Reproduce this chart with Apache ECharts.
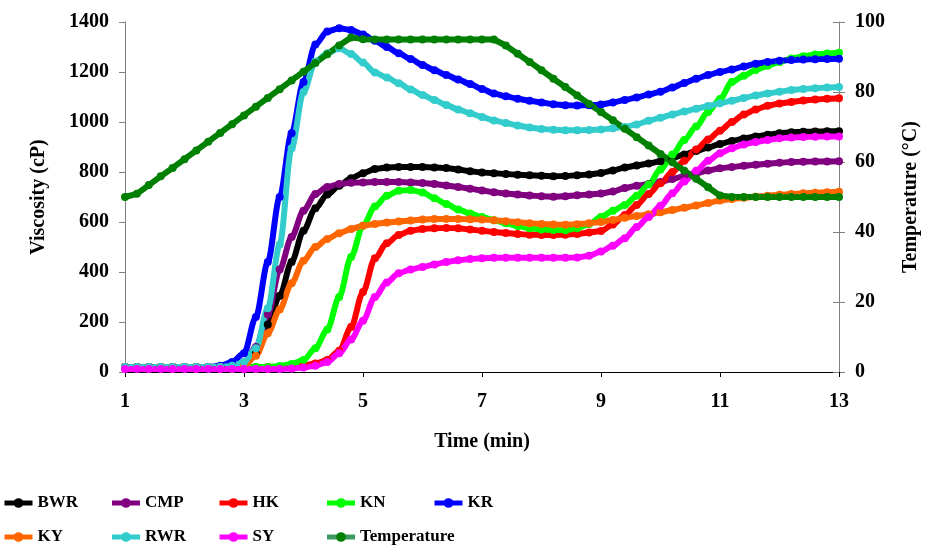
<!DOCTYPE html>
<html>
<head>
<meta charset="utf-8">
<title>Viscosity profile</title>
<script src="https://cdn.jsdelivr.net/npm/echarts@6/dist/echarts.min.js"></script>
<style>
    html, body { margin: 0; padding: 0; background: #fff; }
    #chart { width: 929px; height: 555px; }
</style>
</head>
<body>
<div id="chart"></div>
<script>
// time (min), one reading every 0.2 min
const times = [
    1.0, 1.2, 1.4, 1.6, 1.8, 2.0, 2.2, 2.4, 2.6, 2.8,
    3.0, 3.2, 3.4, 3.6, 3.8, 4.0, 4.2, 4.4, 4.6, 4.8,
    5.0, 5.2, 5.4, 5.6, 5.8, 6.0, 6.2, 6.4, 6.6, 6.8,
    7.0, 7.2, 7.4, 7.6, 7.8, 8.0, 8.2, 8.4, 8.6, 8.8,
    9.0, 9.2, 9.4, 9.6, 9.8, 10.0, 10.2, 10.4, 10.6, 10.8,
    11.0, 11.2, 11.4, 11.6, 11.8, 12.0, 12.2, 12.4, 12.6, 12.8,
    13.0
];

// viscosity (cP)
const bwr = [
    20, 20, 20, 20, 20, 20, 20, 20, 20, 20,
    25, 75, 190, 305, 440, 565, 655, 710, 745, 775,
    795, 812, 818, 820, 820, 820, 818, 816, 810, 803,
    798, 795, 792, 789, 787, 785, 783, 784, 787, 790,
    796, 806, 818, 826, 834, 843, 856, 870, 884, 898,
    912, 924, 934, 942, 949, 955, 959, 961, 962, 963,
    963
];
const cmp = [
    20, 20, 20, 20, 20, 20, 20, 20, 20, 20,
    30, 100, 230, 410, 540, 645, 712, 740, 752, 757,
    758, 760, 760, 760, 758, 756, 752, 746, 740, 733,
    726, 719, 714, 710, 706, 703, 701, 703, 707, 710,
    714, 722, 736, 745, 752, 760, 772, 784, 795, 806,
    815, 820, 825, 829, 833, 837, 840, 841, 842, 842,
    843
];
const hk = [
    20, 20, 20, 20, 20, 20, 20, 20, 20, 20,
    20, 20, 20, 20, 22, 26, 34, 48, 85, 180,
    320, 455, 515, 548, 565, 572, 575, 576, 575, 570,
    565, 560, 556, 552, 549, 548, 548, 549, 552, 558,
    564, 590, 628, 668, 712, 755, 800, 845, 890, 930,
    965, 1000, 1030, 1050, 1065, 1074, 1080, 1086, 1090, 1093,
    1095
];
const kn = [
    20, 20, 20, 20, 20, 20, 20, 20, 20, 20,
    20, 20, 20, 24, 32, 48, 95, 170, 300, 460,
    585, 662, 705, 725, 728, 718, 695, 672, 650, 634,
    620, 607, 595, 584, 575, 570, 568, 567, 575, 592,
    620, 645, 668, 705, 750, 810, 870, 928, 982, 1040,
    1092, 1160, 1185, 1208, 1225, 1240, 1254, 1263, 1270, 1274,
    1277
];
const kr = [
    20, 20, 20, 20, 20, 20, 20, 20, 25, 40,
    75, 220, 440, 700, 955, 1160, 1310, 1362, 1375, 1368,
    1350, 1325, 1300, 1275, 1252, 1228, 1207, 1188, 1170, 1152,
    1132, 1114, 1103, 1093, 1085, 1078, 1071, 1067, 1066, 1067,
    1070, 1078, 1088, 1098, 1110, 1121, 1138, 1156, 1173, 1188,
    1200, 1210, 1222, 1233, 1240, 1245, 1248, 1250, 1251, 1252,
    1253
];
const ky = [
    20, 20, 20, 20, 20, 20, 20, 20, 20, 20,
    25, 65, 155, 250, 355, 445, 500, 532, 555, 572,
    585, 592, 598, 602, 606, 610, 612, 612, 612, 611,
    610, 607, 603, 599, 595, 592, 590, 589, 591, 595,
    600, 608, 617, 624, 631, 639, 648, 657, 666, 676,
    686, 692, 697, 701, 705, 709, 712, 715, 717, 719,
    721
];
const rwr = [
    20, 20, 20, 20, 20, 20, 20, 20, 20, 25,
    40, 95, 255, 510, 895, 1120, 1242, 1275, 1295, 1272,
    1238, 1198, 1178, 1155, 1130, 1108, 1088, 1068, 1050, 1035,
    1020, 1006, 996, 986, 978, 972, 969, 967, 967, 968,
    970, 975, 980, 990, 1005, 1017, 1030, 1042, 1053, 1064,
    1075, 1085, 1096, 1106, 1114, 1121, 1128, 1132, 1135, 1138,
    1140
];
const sy = [
    12, 12, 12, 12, 12, 12, 12, 12, 12, 12,
    12, 12, 12, 12, 14, 18, 25, 40, 75, 130,
    205, 300, 358, 395, 410, 420, 430, 440, 447, 452,
    455, 457, 457, 457, 457, 457, 457, 457, 458, 465,
    482, 505, 535, 580, 620, 665, 715, 762, 805, 845,
    875, 895, 910, 920, 928, 935, 938, 940, 941, 942,
    942
];

// temperature (°C)
const temperature = [
    50, 50.9, 53.4, 55.9, 58.3, 60.8, 63.3, 65.8, 68.3, 70.8,
    73.3, 75.8, 78.3, 80.8, 83.3, 85.8, 88.3, 90.8, 93.3, 95.6,
    95.1, 95, 95, 95, 95, 95, 95, 95, 95, 95,
    95, 95, 93.3, 90.9, 88.6, 86.2, 83.8, 81.4, 79.0, 76.6,
    74.3, 71.9, 69.5, 67.1, 64.7, 62.3, 59.9, 57.5, 55.2, 52.8,
    50.4, 50, 50, 50, 50, 50, 50, 50, 50, 50,
    50
];

const seriesNames = ['BWR', 'CMP', 'HK', 'KN', 'KR', 'KY', 'RWR', 'SY', 'Temperature'];
const seriesValues = [bwr, cmp, hk, kn, kr, ky, rwr, sy, temperature];
const seriesColors = ['#000000', '#800080', '#ff0000', '#00ff00', '#0000ff',
    '#ff6600', '#33cccc', '#ff00ff', '#008000'];

const xTicks = [1, 3, 5, 7, 9, 11, 13];
const viscosityTicks = [0, 200, 400, 600, 800, 1000, 1200, 1400];
const temperatureTicks = [0, 20, 40, 60, 80, 100];

const font = 'Liberation Serif, Times New Roman, serif';
const grey = '#808080';
const plain = (v) => String(v);

const chart = echarts.init(document.getElementById('chart'));

const series = seriesNames.map((name, i) => {
    const isTemp = name === 'Temperature';
    return {
        name: name,
        type: 'line',
        yAxisIndex: isTemp ? 1 : 0,
        data: times.map((t, j) => [t, seriesValues[i][j]]),
        symbol: 'circle',
        symbolSize: 8,
        smooth: isTemp ? false : 0.3,
        smoothMonotone: 'x',
        color: seriesColors[i],
        lineStyle: { width: 6, color: seriesColors[i] },
        itemStyle: { color: seriesColors[i] }
    };
});

// legend entries; the temperature key line is drawn a little lighter
const legendData = seriesNames.map((name) => name === 'Temperature'
    ? { name: name, lineStyle: { color: '#3a9a60' } }
    : { name: name });

chart.setOption({
    animation: false,
    backgroundColor: '#ffffff',
    grid: { left: 125, right: 89, top: 22, bottom: 183 },
    legend: {
        data: legendData,
        left: 2,
        top: 486,
        width: 590,
        padding: 0,
        orient: 'horizontal',
        itemWidth: 28,
        itemHeight: 12,
        itemGap: 0,
        lineStyle: { width: 5 },
        textStyle: {
            fontFamily: font,
            fontWeight: 'bold',
            fontSize: 17,
            color: '#000',
            width: 72,
            overflow: 'none',
            lineHeight: 34
        }
    },
    xAxis: {
        type: 'value',
        min: xTicks[0],
        max: xTicks[xTicks.length - 1],
        interval: 2,
        name: 'Time (min)',
        nameLocation: 'middle',
        nameGap: 60,
        nameTextStyle: { fontFamily: font, fontWeight: 'bold', fontSize: 20, color: '#000' },
        axisLine: { lineStyle: { color: '#000', width: 1 } },
        axisTick: { length: 5, lineStyle: { color: '#000' } },
        axisLabel: { margin: 20, formatter: plain, fontFamily: font, fontWeight: 'bold', fontSize: 20, color: '#000' },
        splitLine: { show: false }
    },
    yAxis: [
        {
            type: 'value',
            min: viscosityTicks[0],
            max: viscosityTicks[viscosityTicks.length - 1],
            interval: 200,
            position: 'left',
            name: 'Viscosity (cP)',
            nameLocation: 'middle',
            nameRotate: 90,
            nameGap: 76,
            nameTextStyle: { fontFamily: font, fontWeight: 'bold', fontSize: 20, color: '#000' },
            axisLine: { show: true, lineStyle: { color: grey } },
            axisTick: { show: true, length: 6, lineStyle: { color: grey } },
            axisLabel: { margin: 16, formatter: plain, fontFamily: font, fontWeight: 'bold', fontSize: 20, color: '#000' },
            splitLine: { show: false }
        },
        {
            type: 'value',
            min: temperatureTicks[0],
            max: temperatureTicks[temperatureTicks.length - 1],
            interval: 20,
            position: 'right',
            name: 'Temperature (°C)',
            nameLocation: 'middle',
            nameRotate: 90,
            nameGap: 62,
            nameTextStyle: { fontFamily: font, fontWeight: 'bold', fontSize: 20, color: '#000' },
            axisLine: { show: true, lineStyle: { color: grey } },
            axisTick: { show: true, length: 6, lineStyle: { color: grey } },
            axisLabel: { margin: 16, formatter: plain, fontFamily: font, fontWeight: 'bold', fontSize: 20, color: '#000' },
            splitLine: { show: false }
        },
        {
            // inner half of the crossing ticks on the right axis
            type: 'value',
            min: temperatureTicks[0],
            max: temperatureTicks[temperatureTicks.length - 1],
            interval: 20,
            position: 'right',
            axisLine: { show: false },
            axisTick: { show: true, inside: true, length: 6, lineStyle: { color: grey } },
            axisLabel: { show: false },
            splitLine: { show: false }
        }
    ],
    series: series
});
</script>
</body>
</html>
